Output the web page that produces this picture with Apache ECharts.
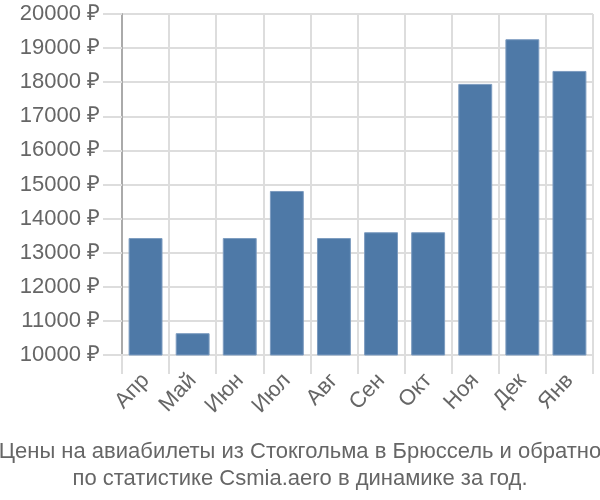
<!DOCTYPE html>
<html><head><meta charset="utf-8">
<script src="https://cdn.jsdelivr.net/npm/echarts@6/dist/echarts.min.js"></script>
<style>html,body{margin:0;padding:0;background:#fff}#c{width:600px;height:500px}</style>
</head><body><div id="c"></div>
<script>
var categories = ['Апр','Май','Июн','Июл','Авг','Сен','Окт','Ноя','Дек','Янв'];
var prices = [13430, 10640, 13430, 14810, 13430, 13600, 13600, 17950, 19260, 18330];
var titleLines = ['Цены на авиабилеты из Стокгольма в Брюссель и обратно', 'по статистике Csmia.aero в динамике за год.'];

var FONT = 'Liberation Sans, Arial, sans-serif';
var chart = echarts.init(document.getElementById('c'), null, {renderer:'canvas'});
chart.setOption({
  animation:false,
  title:{
    text: titleLines.join('\n'),
    left:'center', top:433,
    textStyle:{fontFamily:FONT, fontSize:22, fontWeight:'normal', color:'#666', lineHeight:27}
  },
  grid:{left:122, right:7, top:14, bottom:145},
  xAxis:{
    type:'category', data:categories,
    axisLine:{show:true, lineStyle:{color:'#ddd', width:2}},
    axisTick:{show:true, length:19, lineStyle:{color:'#ddd', width:2}},
    splitLine:{show:true, lineStyle:{color:'#ddd', width:2}},
    axisLabel:{rotate:47, fontFamily:FONT, fontSize:22, color:'#666', margin:22}
  },
  yAxis:{
    type:'value', min:10000, max:20000, interval:1000,
    axisLine:{show:true, lineStyle:{color:'#aaa', width:2}},
    axisTick:{show:true, length:19, lineStyle:{color:'#ddd', width:2}},
    splitLine:{show:true, lineStyle:{color:'#ddd', width:2}},
    axisLabel:{formatter:function(v){return v+' ₽';}, fontFamily:FONT, fontSize:22, color:'#666', margin:22}
  },
  series:[{
    type:'bar', data:prices, barWidth:'72%',
    itemStyle:{color:'#4e79a7', borderColor:'#7d9cc0', borderWidth:1}
  }]
});
</script></body></html>
